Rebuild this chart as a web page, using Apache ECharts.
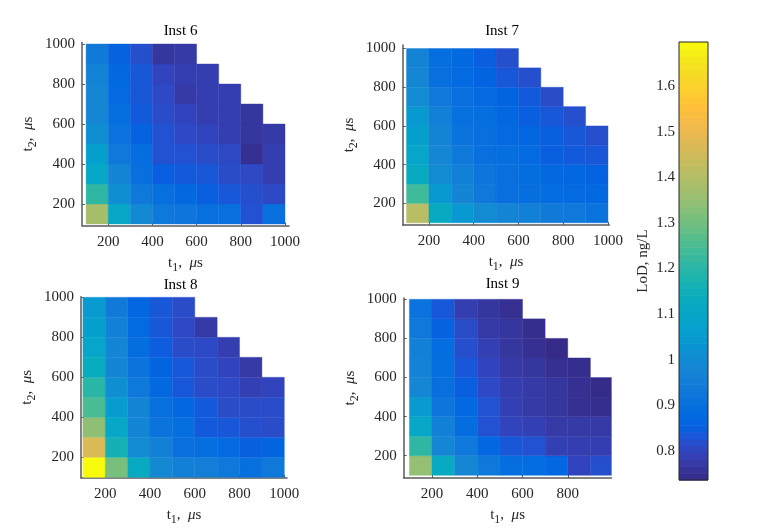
<!DOCTYPE html>
<html><head><meta charset="utf-8">
<script src="https://cdn.jsdelivr.net/npm/echarts@6/dist/echarts.min.js"></script>
<style>html,body{margin:0;padding:0;background:#fff}#c{width:767px;height:532px}</style>
</head><body><div id="c"></div>
<script>
// ---------- data ----------
const t1Edges = [100,200,300,400,500,600,700,800,900,1000];
const t2Edges = [100,200,300,400,500,600,700,800,900,1000];
const tickValues = [200,400,600,800,1000];
const cbTickValues = [0.8,0.9,1.0,1.1,1.2,1.3,1.4,1.5,1.6];
const lodMin = 0.736, lodMax = 1.697;
const titles = ['Inst 6','Inst 7','Inst 8','Inst 9'];
// LoD values, rows from t2=100 (bottom) to t2=900 (top); columns t1=100,200,...
const inst6 = [
  [1.38,1.10,0.99,0.93,0.92,0.90,0.90,0.825,0.90],
  [1.21,1.01,0.93,0.90,0.875,0.85,0.835,0.82,0.81],
  [1.10,0.975,0.90,0.85,0.84,0.835,0.815,0.81,0.785],
  [1.07,0.93,0.895,0.825,0.825,0.815,0.81,0.75,0.785],
  [1.01,0.91,0.855,0.825,0.81,0.80,0.785,0.765,0.775],
  [0.985,0.895,0.84,0.815,0.80,0.785,0.785,0.765],
  [0.985,0.88,0.835,0.81,0.775,0.785,0.785],
  [0.97,0.875,0.835,0.80,0.785,0.785],
  [0.94,0.855,0.82,0.765,0.775]
];
const inst7 = [
  [1.41,1.12,1.04,1.00,0.98,0.96,0.94,0.93,0.91],
  [1.235,1.045,0.98,0.93,0.90,0.895,0.89,0.88,0.875],
  [1.12,1.00,0.96,0.92,0.90,0.89,0.875,0.87,0.855],
  [1.09,0.985,0.93,0.90,0.895,0.88,0.85,0.84,0.835],
  [1.07,0.975,0.91,0.90,0.88,0.87,0.85,0.835,0.82],
  [1.045,0.96,0.90,0.895,0.87,0.85,0.835,0.82],
  [1.00,0.93,0.90,0.88,0.86,0.84,0.815],
  [0.985,0.90,0.88,0.86,0.835,0.82],
  [0.97,0.895,0.875,0.85,0.82]
];
const inst8 = [
  [1.697,1.31,1.12,0.99,0.96,0.955,0.93,0.90,0.93],
  [1.47,1.16,1.00,0.96,0.90,0.895,0.88,0.85,0.865],
  [1.34,1.10,0.975,0.91,0.895,0.84,0.835,0.82,0.815],
  [1.25,1.055,0.975,0.90,0.87,0.84,0.815,0.815,0.815],
  [1.20,1.01,0.93,0.875,0.835,0.815,0.81,0.79,0.80],
  [1.13,0.975,0.91,0.86,0.835,0.815,0.80,0.775],
  [1.09,0.975,0.89,0.845,0.815,0.81,0.785],
  [1.07,0.96,0.88,0.835,0.81,0.775],
  [1.05,0.94,0.87,0.835,0.815]
];
const inst9 = [
  [1.35,1.12,0.985,0.93,0.895,0.89,0.87,0.80,0.82],
  [1.21,0.985,0.93,0.87,0.835,0.825,0.79,0.785,0.785],
  [1.10,0.96,0.89,0.825,0.80,0.79,0.775,0.775,0.775],
  [1.05,0.92,0.875,0.825,0.79,0.775,0.765,0.75,0.745],
  [0.985,0.90,0.85,0.81,0.785,0.775,0.765,0.75,0.74],
  [0.97,0.895,0.835,0.80,0.775,0.765,0.75,0.745],
  [0.96,0.89,0.82,0.79,0.765,0.75,0.737],
  [0.93,0.855,0.815,0.775,0.765,0.745],
  [0.91,0.835,0.785,0.765,0.75]
];
const instruments = [inst6, inst7, inst8, inst9];
// parula colormap (64)
const parula = ['#352A87','#363093','#3637A0','#353DAD','#3243BA','#2C4AC7','#2053D4','#0F5CDD',
'#0363E1','#0268E1','#046DE0','#0871DE','#0D75DC','#1079DA','#127DD8','#1481D6',
'#1485D4','#1389D3','#108ED2','#0C93D2','#0998D1','#079CCF','#06A0CD','#06A4CA',
'#06A7C6','#07A9C2','#0AACBE','#0FAEB9','#15B1B4','#1DB3AF','#25B5A9','#2EB7A4',
'#38B99E','#42BB98','#4DBC92','#59BD8C','#65BE86','#71BF80','#7CBF7B','#87BF77',
'#92BF73','#9CBF6F','#A5BE6B','#AEBE67','#B7BD64','#C0BC60','#C8BC5D','#D1BB59',
'#D9BA56','#E1B952','#E9B94E','#F1B94A','#F8BB44','#FDBE3D','#FFC337','#FEC832',
'#FCCE2E','#FAD32A','#F7D826','#F5DE21','#F5E41D','#F5EB18','#F6F313','#F9FB0E'];

// ---------- layout ----------
const FONT = 'Liberation Serif';
const layout = [
  {cx:[86.1,285.0], cy:[224.0,44.0], xr:[81,1018], yr:[92,1008], title:[180.5,31.5]},
  {cx:[406.5,608.0], cy:[222.8,48.5], xr:[83,1006], yr:[89,1018], title:[502,31]},
  {cx:[82.9,284.3], cy:[477.3,297.3], xr:[92,1012], yr:[97,1003], title:[180.5,285]},
  {cx:[409.4,613.0], cy:[475.3,299.3], xr:[75,993], yr:[86,1007], title:[502.5,284.5]}
];
const cbBox = {left:679, top:42, width:29, height:438};

function gridFrom(l){
  const sx = (l.cx[1]-l.cx[0])/900, sy = (l.cy[0]-l.cy[1])/900;
  return {
    left: l.cx[0] - (100-l.xr[0])*sx,
    width: (l.xr[1]-l.xr[0])*sx,
    top: l.cy[1] - (l.yr[1]-1000)*sy,
    height: (l.yr[1]-l.yr[0])*sy
  };
}

const richName = {
  i:{fontFamily:FONT,fontSize:15,color:'#262626',lineHeight:22},
  m:{fontFamily:FONT,fontSize:15,color:'#262626',lineHeight:22,fontStyle:'italic'},
  s:{fontFamily:FONT,fontSize:12,color:'#262626',lineHeight:10,verticalAlign:'bottom'}
};
const plainNum = v => String(v);

const grids=[], xAxes=[], yAxes=[], series=[], graphics=[];
layout.forEach((l,k)=>{
  grids.push(gridFrom(l));
  const xt = tickValues.filter(v=>v>=l.xr[0]&&v<=l.xr[1]);
  const yt = tickValues.filter(v=>v>=l.yr[0]&&v<=l.yr[1]);
  const axCommon = {
    type:'value', gridIndex:k, splitLine:{show:false},
    axisLine:{show:true,onZero:false,lineStyle:{color:'#5a5a5a',width:1.5}},
    nameLocation:'middle', nameTextStyle:{rich:richName}
  };
  xAxes.push(Object.assign({}, axCommon, {
    min:l.xr[0], max:l.xr[1],
    axisTick:{show:true,inside:true,length:3,customValues:xt,lineStyle:{color:'#5a5a5a'}},
    axisLabel:{customValues:xt,margin:9,color:'#262626',fontFamily:FONT,fontSize:15,formatter:plainNum},
    name:'{i|t}{s|1}{i|,  }{m|μ}{i|s}', nameGap:26
  }));
  yAxes.push(Object.assign({}, axCommon, {
    min:l.yr[0], max:l.yr[1],
    axisTick:{show:true,inside:true,length:3,customValues:yt,lineStyle:{color:'#5a5a5a'}},
    axisLabel:{customValues:yt,margin:7,color:'#262626',fontFamily:FONT,fontSize:15,formatter:plainNum},
    name:'{i|t}{s|2}{i|,  }{m|μ}{i|s}', nameGap:43
  }));
  const data=[];
  instruments[k].forEach((row,r)=>{
    row.forEach((v,c)=>{
      data.push([t1Edges[c],t1Edges[c+1],t2Edges[r],t2Edges[r+1],v]);
    });
  });
  series.push({
    type:'custom', xAxisIndex:k, yAxisIndex:k, data:data,
    encode:{x:[0,1],y:[2,3]},
    renderItem:function(params, api){
      const p0 = api.coord([api.value(0), api.value(2)]);
      const p1 = api.coord([api.value(1), api.value(3)]);
      const cs = params.coordSys;
      const shape = echarts.graphic.clipRectByRect(
        {x:p0[0], y:p1[1], width:p1[0]-p0[0], height:p0[1]-p1[1]},
        {x:cs.x, y:cs.y, width:cs.width, height:cs.height});
      if(!shape) return;
      const col = api.visual('color');
      return {type:'rect', shape:shape, style:{fill:col, stroke:col, lineWidth:0.4}};
    }
  });
  graphics.push({type:'text', x:l.title[0], y:l.title[1],
    style:{text:titles[k], font:'15px "Liberation Serif"', fill:'#000', align:'center', verticalAlign:'middle'}});
});

// colorbar grid
grids.push(cbBox);
xAxes.push({type:'value', gridIndex:4, min:0, max:1, show:false});
yAxes.push({type:'value', gridIndex:4, min:lodMin, max:lodMax, position:'left',
  splitLine:{show:false}, axisLine:{show:false},
  axisTick:{show:true,inside:true,length:4,customValues:cbTickValues,lineStyle:{color:'#262626'}},
  axisLabel:{customValues:cbTickValues,margin:4,color:'#262626',fontFamily:FONT,fontSize:15,
    formatter:v=>String(Math.round(v*10)/10)},
  name:'LoD, ng/L', nameLocation:'middle', nameGap:28,
  nameTextStyle:{fontFamily:FONT,fontSize:15,color:'#262626'}
});
const nLevels = parula.length;
const cbData = parula.map((_,i)=>{
  const lo = lodMin + (lodMax-lodMin)*i/nLevels;
  const hi = lodMin + (lodMax-lodMin)*(i+1)/nLevels;
  return [lo,hi,(lo+hi)/2];
});
series.push({
  type:'custom', xAxisIndex:4, yAxisIndex:4, data:cbData, encode:{y:[0,1]},
  renderItem:function(params, api){
    const a = api.coord([0, api.value(0)]);
    const b = api.coord([1, api.value(1)]);
    const col = api.visual('color');
    return {type:'rect', shape:{x:a[0], y:b[1], width:b[0]-a[0], height:a[1]-b[1]+0.6}, style:{fill:col}};
  }
});
series.push({
  type:'custom', xAxisIndex:4, yAxisIndex:4, data:[[lodMin,lodMax]], encode:{y:[0,1]}, z:5,
  renderItem:function(params, api){
    const cs = params.coordSys;
    return {type:'rect', shape:{x:cs.x, y:cs.y, width:cs.width, height:cs.height},
      style:{fill:'none', stroke:'#262626', lineWidth:1}};
  }
});

const chart = echarts.init(document.getElementById('c'), null, {renderer:'canvas'});
chart.setOption({
  animation:false,
  backgroundColor:'#fff',
  grid:grids, xAxis:xAxes, yAxis:yAxes, series:series,
  graphic:graphics,
  visualMap:[
    {type:'continuous', show:false, min:lodMin, max:lodMax, dimension:4, seriesIndex:[0,1,2,3], inRange:{color:parula}},
    {type:'continuous', show:false, min:lodMin, max:lodMax, dimension:2, seriesIndex:[4], inRange:{color:parula}}
  ]
});
</script>
</body></html>
